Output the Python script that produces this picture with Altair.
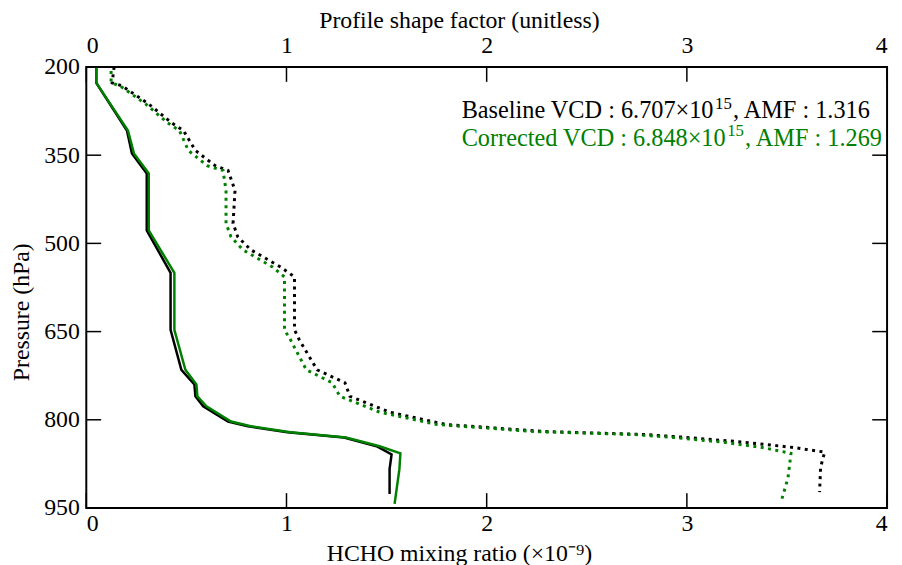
import altair as alt
import pandas as pd

# ---------------- data ----------------
# HCHO mixing ratio (x1e-9), solid lines
p_mr_base = [200, 227, 308, 347, 381, 478, 550, 647, 715, 740, 760, 777, 803, 811, 821, 830, 845, 859, 884, 926]
mr_base   = [0.05, 0.05, 0.203, 0.228, 0.302, 0.302, 0.421, 0.421, 0.475, 0.54, 0.545, 0.584, 0.708, 0.807, 1.005, 1.287, 1.45, 1.525, 1.515, 1.515]
p_mr_corr = [200, 227, 308, 347, 381, 478, 550, 647, 715, 740, 760, 777, 803, 811, 821, 830, 845, 857, 884, 943]
mr_corr   = [0.05, 0.05, 0.208, 0.238, 0.312, 0.312, 0.44, 0.44, 0.495, 0.55, 0.555, 0.60, 0.723, 0.822, 1.02, 1.297, 1.465, 1.569, 1.564, 1.54]

# Profile shape factor (unitless), dotted lines
p_sf_base = [200, 227, 232, 263, 295, 308, 342, 368, 376, 410, 466, 489, 511, 540, 557, 647, 664, 715, 737, 760, 787, 808, 820, 825, 830, 838, 847, 855, 881, 923]
sf_base   = [0.139, 0.129, 0.178, 0.312, 0.426, 0.485, 0.545, 0.644, 0.708, 0.743, 0.733, 0.757, 0.822, 0.97, 1.04, 1.04, 1.064, 1.153, 1.292, 1.317, 1.515, 1.797, 2.292, 2.787, 3.0, 3.282, 3.53, 3.688, 3.668, 3.663]
p_sf_corr = [207, 227, 232, 263, 295, 308, 342, 368, 376, 410, 466, 489, 511, 540, 557, 647, 664, 715, 737, 760, 787, 808, 820, 825, 830, 838, 847, 857, 899, 940]
sf_corr   = [0.124, 0.124, 0.168, 0.297, 0.406, 0.465, 0.51, 0.604, 0.683, 0.698, 0.698, 0.723, 0.782, 0.93, 0.99, 0.99, 1.02, 1.099, 1.228, 1.267, 1.465, 1.752, 2.238, 2.733, 2.931, 3.178, 3.376, 3.52, 3.505, 3.47]

series_names = ["Baseline", "Corrected"]
series_colors = ["#000000", "#008000"]

x_ticks = [0, 1, 2, 3, 4]
y_ticks = [200, 350, 500, 650, 800, 950]

# annotation pieces: main text, superscript, tail
ann_main = ["Baseline VCD : 6.707×10", "Corrected VCD : 6.848×10"]
ann_sup = ["15", "15"]
ann_tail = [", AMF : 1.316", ", AMF : 1.269"]
ann_x = [1.875, 1.875]
ann_p = [287.5, 335]

# ---------------- tables ----------------
mr_df = pd.concat([
    pd.DataFrame({"p": p_mr_base, "v": mr_base, "series": "Baseline"}),
    pd.DataFrame({"p": p_mr_corr, "v": mr_corr, "series": "Corrected"}),
])
sf_df = pd.concat([
    pd.DataFrame({"p": p_sf_base, "v": sf_base, "series": "Baseline"}),
    pd.DataFrame({"p": p_sf_corr, "v": sf_corr, "series": "Corrected"}),
])
xt_df = pd.DataFrame({"t": x_ticks})
yt_df = pd.DataFrame({"t": y_ticks})

FONT = "Liberation Serif"
FS = 24.5
SUP_FS = 17
W, H = 808, 445
TICK = 15

x_scale = alt.Scale(domain=[0, 4], nice=False, zero=False)
y_scale = alt.Scale(domain=[200, 950], reverse=True, nice=False, zero=False)
c_scale = alt.Scale(domain=series_names, range=series_colors)

y_axis = alt.Axis(values=y_ticks, title="Pressure (hPa)", ticks=False, domain=False, grid=False,
                  labelPadding=7, labelFontSize=24, titleFontSize=24,
                  titleX=-65, titleY=247, titleBaseline="middle", titleAlign="center")


def Y(field):
    return alt.Y(field, scale=y_scale, axis=y_axis)


mr = alt.Chart(mr_df).mark_line(strokeWidth=2.5).encode(
    x=alt.X("v:Q", scale=x_scale,
            axis=alt.Axis(orient="bottom", values=x_ticks, format="d", title="HCHO mixing ratio (×10⁻⁹)",
                          ticks=False, domain=False, grid=False, labelPadding=4,
                          labelFontSize=24, titleFontSize=24,
                          titleX=376, titleY=53, titleBaseline="alphabetic", titleAlign="center")),
    y=Y("p:Q"),
    color=alt.Color("series:N", scale=c_scale, legend=None),
    order=alt.Order("p:Q"),
)

sf = alt.Chart(sf_df).mark_line(strokeWidth=3, strokeDash=[3, 4.5], strokeCap="butt").encode(
    x=alt.X("v:Q", scale=x_scale,
            axis=alt.Axis(orient="top", values=x_ticks, format="d", title="Profile shape factor (unitless)",
                          ticks=False, domain=False, grid=False, labelPadding=10,
                          labelFontSize=24, titleFontSize=24,
                          titleX=376, titleY=-40, titleBaseline="alphabetic", titleAlign="center")),
    y=Y("p:Q"),
    color=alt.Color("series:N", scale=c_scale, legend=None),
    order=alt.Order("p:Q"),
)

xtick_bottom = alt.Chart(xt_df).mark_rule(color="black", strokeWidth=1.5).encode(
    x=alt.X("t:Q", scale=x_scale, axis=None), y=alt.value(H), y2=alt.value(H - TICK))
xtick_top = alt.Chart(xt_df).mark_rule(color="black", strokeWidth=1.5).encode(
    x=alt.X("t:Q", scale=x_scale, axis=None), y=alt.value(0), y2=alt.value(TICK))
ytick_left = alt.Chart(yt_df).mark_rule(color="black", strokeWidth=1.5).encode(
    y=Y("t:Q"), x=alt.value(0), x2=alt.value(TICK))
ytick_right = alt.Chart(yt_df).mark_rule(color="black", strokeWidth=1.5).encode(
    y=Y("t:Q"), x=alt.value(W), x2=alt.value(W - TICK))


def ann_layer(idx, texts, dx, dy, size):
    df = pd.DataFrame({"txt": [texts[idx]], "x": [ann_x[idx]], "p": [ann_p[idx]],
                       "series": [series_names[idx]]})
    return alt.Chart(df).mark_text(align="left", baseline="alphabetic", font=FONT, fontSize=size,
                                   dx=dx, dy=dy).encode(
        x=alt.X("x:Q", scale=x_scale, axis=None),
        y=Y("p:Q"),
        text="txt:N",
        color=alt.Color("series:N", scale=c_scale, legend=None),
    )


# widths (Times metrics, em) of the main pieces, for placing the superscripts
main_w = [10.397 * FS, 10.896 * FS]
sup_w = 1.0 * SUP_FS
ann_layers = []
for i in range(2):
    ann_layers.append(ann_layer(i, ann_main, 0, 0, FS))
    ann_layers.append(ann_layer(i, ann_sup, main_w[i] + 1, -10, SUP_FS))
    ann_layers.append(ann_layer(i, ann_tail, main_w[i] + sup_w + 2, 0, FS))

chart = alt.layer(mr, sf, xtick_bottom, xtick_top, ytick_left, ytick_right, *ann_layers).resolve_scale(
    x="independent"
).resolve_axis(x="independent").properties(
    width=W, height=H,
    autosize=alt.AutoSizeParams(type="none"),
    padding={"left": 79, "top": 57, "right": 7, "bottom": 55},
    background="white",
).configure_view(
    stroke="black", strokeWidth=2
).configure_axis(
    labelFont=FONT, titleFont=FONT, labelColor="black", titleColor="black", titleFontWeight="normal"
)

chart.save("out.html", embed_options={"renderer": "svg", "actions": False})
